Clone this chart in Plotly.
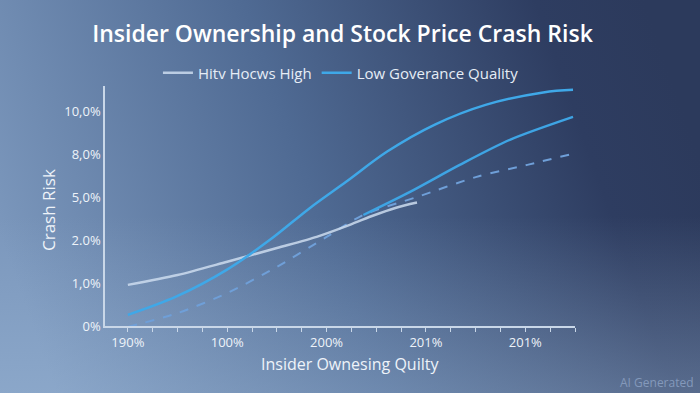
import base64
import plotly.graph_objects as go

# ---- data ----
x_tick_vals = [0, 1, 2, 3, 4]
x_tick_text = ["190%", "100%", "200%", "201%", "201%"]
y_tick_vals = [0, 1, 2, 3, 4, 5]
y_tick_text = ["0%", "1,0%", "2.0%", "5,0%", "8,0%", "10,0%"]

high_x = [0, 0.5, 1.0, 1.5, 1.9, 2.2, 2.45, 2.7, 2.91]
high_y = [0.96, 1.19, 1.50, 1.82, 2.08, 2.33, 2.56, 2.76, 2.88]

low_x = [0, 0.49, 0.994, 1.43, 1.83, 2.2, 2.61, 3.09, 3.6, 4.18, 4.48]
low_y = [0.26, 0.69, 1.31, 2.01, 2.75, 3.37, 4.07, 4.70, 5.16, 5.45, 5.51]

low2_x = [2.37, 2.84, 3.34, 3.85, 4.48]
low2_y = [2.59, 3.13, 3.76, 4.35, 4.88]

dash_x = [0, 0.5, 1.0, 1.5, 2.0, 2.37, 2.91, 3.51, 4.02, 4.48]
dash_y = [-0.02, 0.30, 0.77, 1.38, 2.08, 2.59, 3.01, 3.48, 3.76, 4.02]

W, H = 700, 393
ML, MR, MT, MB = 105, 125, 86, 67
PW, PH = W - ML - MR, H - MT - MB

svg = f'''<svg xmlns="http://www.w3.org/2000/svg" width="{W}" height="{H}" viewBox="0 0 {W} {H}" preserveAspectRatio="none">
<defs>
<linearGradient id="g1" x1="0" y1="0.6" x2="1" y2="0.4">
<stop offset="0" stop-color="#7b97bc"/>
<stop offset="0.45" stop-color="#4f6a93"/>
<stop offset="0.85" stop-color="#2e3d61"/>
<stop offset="1" stop-color="#2c3a5c"/>
</linearGradient>
<linearGradient id="g2" x1="0" y1="0" x2="0" y2="1">
<stop offset="0" stop-color="#a8c4e2" stop-opacity="0"/>
<stop offset="0.55" stop-color="#a8c4e2" stop-opacity="0"/>
<stop offset="1" stop-color="#a8c4e2" stop-opacity="0.35"/>
</linearGradient>
</defs>
<rect width="{W}" height="{H}" fill="url(#g1)"/>
<rect width="{W}" height="{H}" fill="url(#g2)"/>
</svg>'''
bg_src = "data:image/svg+xml;base64," + base64.b64encode(svg.encode()).decode()

fig = go.Figure()
fig.add_trace(go.Scatter(x=dash_x, y=dash_y, mode="lines", showlegend=False,
                         line=dict(color="#6f9fd8", width=2, dash="dash",
                                   shape="spline", smoothing=0.8)))
fig.add_trace(go.Scatter(x=low2_x, y=low2_y, mode="lines", showlegend=False,
                         line=dict(color="#3ea4e4", width=2.5, shape="spline", smoothing=0.8)))
fig.add_trace(go.Scatter(x=high_x, y=high_y, mode="lines", name="Hitv Hocws High",
                         line=dict(color="rgba(205,220,238,0.85)", width=2.5,
                                   shape="spline", smoothing=0.8)))
fig.add_trace(go.Scatter(x=low_x, y=low_y, mode="lines", name="Low Goverance Quality",
                         line=dict(color="#3fa8e8", width=2.5, shape="spline", smoothing=1.0)))

font_fam = "Open Sans, Noto Sans, sans-serif"
fig.update_layout(
    width=W, height=H,
    margin=dict(l=ML, r=MR, t=MT, b=MB),
    paper_bgcolor="#4f6a93",
    plot_bgcolor="rgba(0,0,0,0)",
    font=dict(family=font_fam, color="#e6edf6"),
    title=dict(text="Insider Ownership and Stock Price Crash Risk",
               x=342.5 / W, xanchor="center", y=1 - 34 / H, yanchor="middle",
               font=dict(size=23, color="#ffffff", weight=600)),
    legend=dict(orientation="h", x=0.502, xanchor="center", y=(H - MB - 73) / PH,
                yanchor="middle", font=dict(size=15, color="#e6edf6"),
                bgcolor="rgba(0,0,0,0)", itemwidth=30, tracegroupgap=0),
    xaxis=dict(range=[-0.23, 4.5], tickvals=x_tick_vals, ticktext=x_tick_text,
               showgrid=False, zeroline=False, showline=True, linecolor="#c9d7e8",
               linewidth=1.5, ticks="outside", ticklen=4, tickcolor="#c9d7e8",
               tickfont=dict(size=13, color="#eef3f9"),
               minor=dict(tick0=0, dtick=0.25, ticks="outside", ticklen=4,
                          tickcolor="#c9d7e8", showgrid=False)),
    yaxis=dict(range=[0, 5.6], tickvals=y_tick_vals, ticktext=y_tick_text,
               showgrid=False, zeroline=False, showline=True, linecolor="#c9d7e8",
               linewidth=1.5, ticks="", tickfont=dict(size=13, color="#eef3f9")),
    images=[dict(source=bg_src, xref="paper", yref="paper",
                 x=-ML / PW, y=(H - MB) / PH, sizex=W / PW, sizey=H / PH,
                 xanchor="left", yanchor="top", sizing="stretch", layer="below")],
    annotations=[
        dict(text="Crash Risk", textangle=-90, xref="paper", yref="paper",
             x=(48 - ML) / PW, y=(H - MB - 210) / PH, showarrow=False,
             xanchor="center", yanchor="middle",
             font=dict(size=17, color="#eef3f9")),
        dict(text="Insider Ownesing Quilty", xref="paper", yref="paper",
             x=(350 - ML) / PW, y=(H - MB - 364) / PH, showarrow=False,
             xanchor="center", yanchor="middle",
             font=dict(size=16, color="#eef3f9")),
        dict(text="AI Generated", xref="paper", yref="paper",
             x=(696 - ML) / PW, y=(H - MB - 382) / PH, showarrow=False,
             xanchor="right", yanchor="middle",
             font=dict(size=12, color="#8499bb")),
    ],
)

fig.write_html("out.html", config={"displayModeBar": False},
               post_script="document.body.style.margin='0';document.body.style.overflow='hidden';")
